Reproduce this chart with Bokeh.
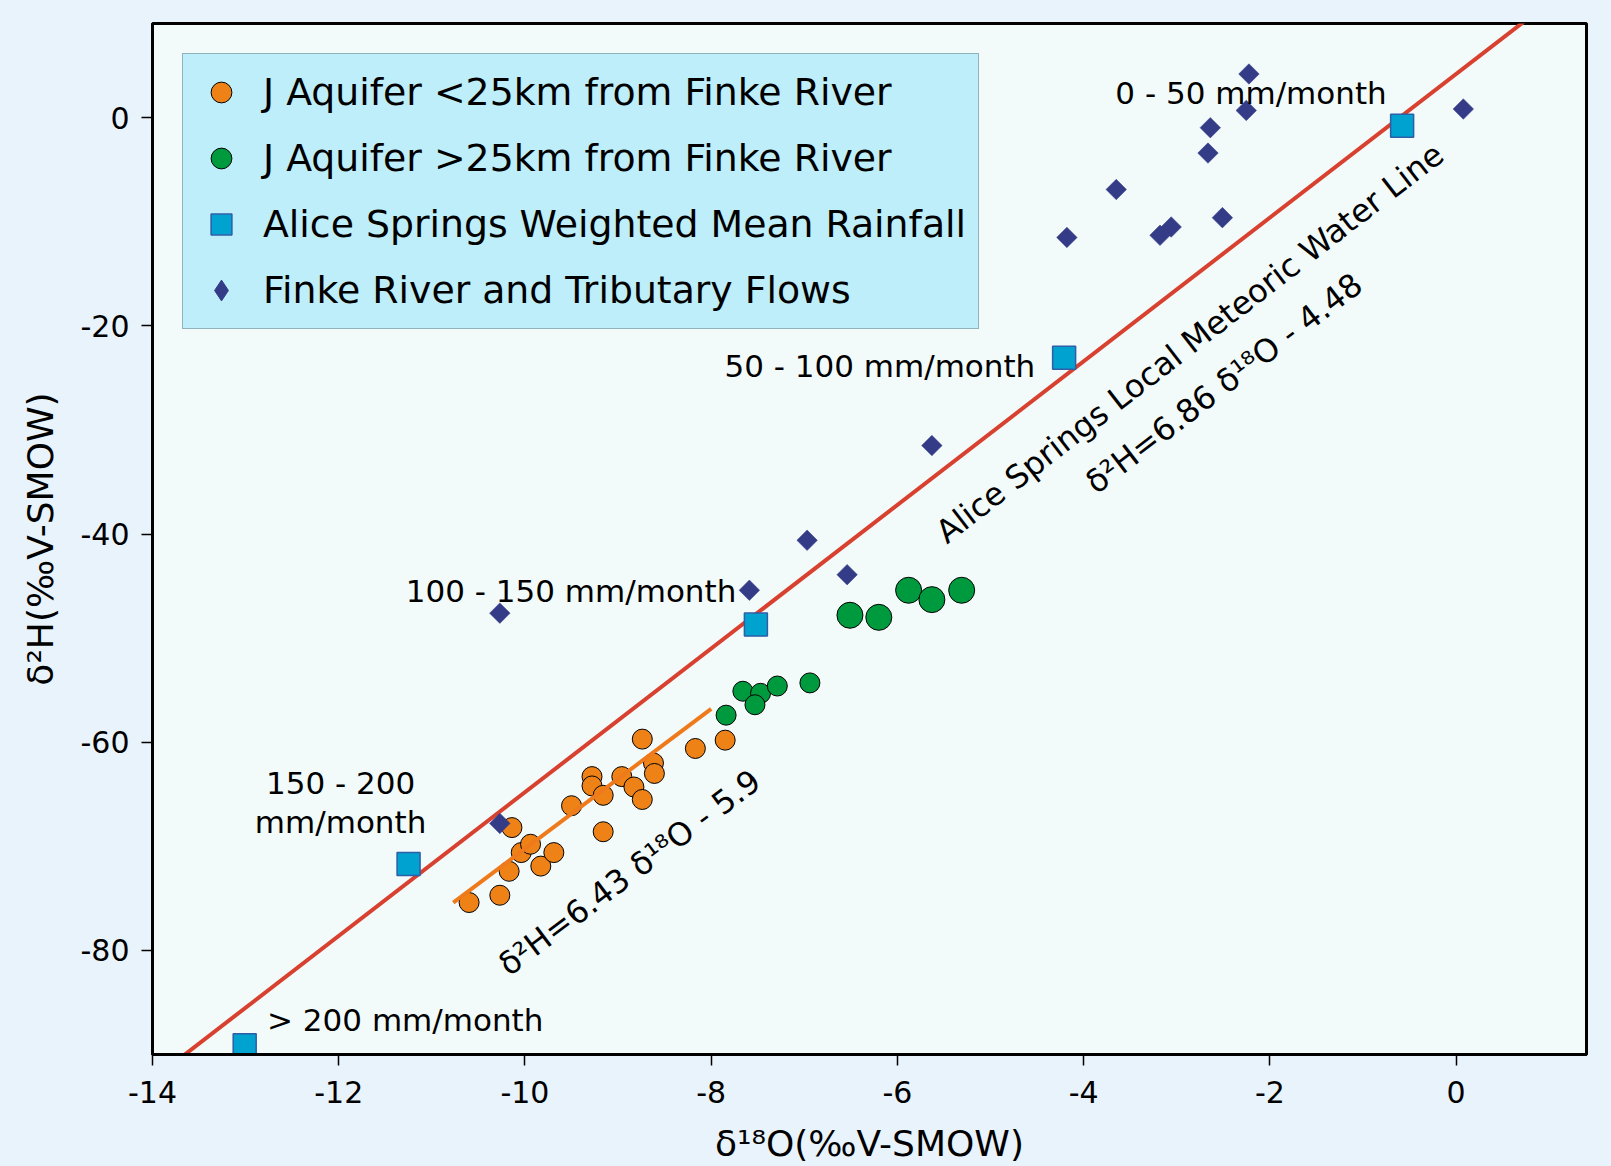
import math
from bokeh.plotting import figure
from bokeh.models import Range1d, FixedTicker, Label, Legend, LegendItem, PrintfTickFormatter
from bokeh.embed import file_html
from bokeh.resources import INLINE

# ---------------- data ----------------
# J Aquifer < 25 km from Finke River
near_x = [-10.60, -10.27, -10.14, -10.17, -10.04, -9.94, -9.83, -9.69, -9.50, -9.28, -9.28,
          -9.16, -9.16, -8.96, -8.83, -8.74, -8.74, -8.62, -8.61, -8.17, -7.85]
near_y = [-75.4, -74.7, -68.2, -72.4, -70.6, -69.8, -71.9, -70.6, -66.1, -63.3, -64.2,
          -65.1, -68.6, -63.3, -64.3, -65.5, -59.7, -62.0, -63.0, -60.6, -59.8]

# J Aquifer > 25 km from Finke River (two marker sizes in the original)
far_a_x = [-7.84, -7.66, -7.47, -7.53, -7.29, -6.94]
far_a_y = [-57.4, -55.1, -55.3, -56.4, -54.6, -54.3]
far_b_x = [-6.51, -6.20, -5.88, -5.63, -5.31]
far_b_y = [-47.8, -48.0, -45.4, -46.3, -45.4]

# Alice Springs weighted mean rainfall
rain_x = [-13.01, -11.25, -7.52, -4.21, -0.58]
rain_y = [-89.1, -71.7, -48.7, -23.05, -0.77]

# Finke River and tributary flows
flow_x = [-10.27, -10.27, -7.59, -6.97, -6.54, -5.63, -4.18, -3.65, -3.18, -3.06,
          -2.665, -2.64, -2.51, -2.254, -2.225, 0.077]
flow_y = [-47.6, -67.8, -45.4, -40.6, -43.9, -31.5, -11.5, -6.9, -11.3, -10.5,
          -3.4, -0.96, -9.6, 0.70, 4.2, 0.83]

# Local meteoric water line as drawn
lmwl_slope = 6.9
lmwl_intercept = 4.2
# Regression line through the near-river J Aquifer samples, as drawn
fit_x = [-10.77, -8.0]
fit_y = [-75.4, -56.8]

x_ticks = [-14, -12, -10, -8, -6, -4, -2, 0]
y_ticks = [-80, -60, -40, -20, 0]

series_names = ["J Aquifer <25km from Finke River",
                "J Aquifer >25km from Finke River",
                "Alice Springs Weighted Mean Rainfall",
                "Finke River and Tributary Flows"]
rain_labels = ["0 - 50 mm/month", "50 - 100 mm/month", "100 - 150 mm/month",
               "150 - 200", "mm/month", "> 200 mm/month"]
lmwl_label = "Alice Springs Local Meteoric Water Line"
lmwl_eq = "δ²H=6.86 δ¹⁸O - 4.48"
fit_eq = "δ²H=6.43 δ¹⁸O - 5.9"
x_title = "δ¹⁸O(‰V-SMOW)"
y_title = "δ²H(‰V-SMOW)"

# ---------------- styling ----------------
FONT = "DejaVu Sans"
FIG_BG = "#E9F3FB"
PLOT_BG = "#F2FBFA"
ORANGE = "#EE8217"
GREEN = "#009A3E"
SQUARE = "#00A2CF"
SQUARE_EDGE = "#2F5DA6"
NAVY = "#343C88"
RED = "#D8412F"

X0, X1 = -14, 1.40
Y0, Y1 = -90, 9.05

p = figure(width=1611, height=1166, output_backend="svg", toolbar_location=None,
           x_range=Range1d(X0, X1), y_range=Range1d(Y0, Y1),
           min_border_left=152, min_border_right=25, min_border_top=23, min_border_bottom=111)
p.background_fill_color = PLOT_BG
p.border_fill_color = FIG_BG
p.outline_line_color = "black"
p.outline_line_width = 3
p.grid.visible = False

for ax in (p.xaxis[0], p.yaxis[0]):
    ax.axis_line_color = "black"
    ax.axis_line_width = 3
    ax.major_tick_line_color = "black"
    ax.major_tick_line_width = 1.5
    ax.major_tick_out = 11
    ax.major_tick_in = 0
    ax.minor_tick_line_color = None
    ax.major_label_text_font = FONT
    ax.major_label_text_font_size = "30px"
    ax.major_label_text_color = "black"
    ax.axis_label_text_font = FONT
    ax.axis_label_text_font_size = "36px"
    ax.axis_label_text_font_style = "normal"
    ax.axis_label_text_color = "black"
    ax.formatter = PrintfTickFormatter(format="%d")

p.xaxis.ticker = FixedTicker(ticks=x_ticks)
p.yaxis.ticker = FixedTicker(ticks=y_ticks)
p.xaxis.axis_label = x_title
p.yaxis.axis_label = y_title
p.xaxis.major_label_standoff = 15
p.xaxis.axis_label_standoff = 17
p.yaxis.major_label_standoff = 12
p.yaxis.axis_label_standoff = 17

# meteoric water line across the x range
lx = [X0, X1]
ly = [lmwl_slope * v + lmwl_intercept for v in lx]
p.line(lx, ly, line_color=RED, line_width=4)

r_near = p.scatter(near_x, near_y, marker="circle", size=20, fill_color=ORANGE,
                   line_color="black", line_width=1)
p.line(fit_x, fit_y, line_color="#EE7A1C", line_width=4)
r_far = p.scatter(far_a_x, far_a_y, marker="circle", size=20, fill_color=GREEN,
                  line_color="black", line_width=1)
p.scatter(far_b_x, far_b_y, marker="circle", size=26, fill_color=GREEN,
          line_color="black", line_width=1)
r_rain = p.scatter(rain_x, rain_y, marker="square", size=23, fill_color=SQUARE,
                   line_color=SQUARE_EDGE, line_width=1.5)
p.scatter(flow_x, flow_y, marker="square", angle=math.pi / 4, size=14.5,
          fill_color=NAVY, line_color=NAVY, line_width=0.5)
# proxy used only for the legend swatch (no visible point in the plot)
nan = float("nan")
r_flow_leg = p.scatter(x=[nan], y=[nan], marker="diamond", size=20,
                       fill_color=NAVY, line_color=NAVY)

legend = Legend(items=[LegendItem(label=series_names[0], renderers=[r_near]),
                       LegendItem(label=series_names[1], renderers=[r_far]),
                       LegendItem(label=series_names[2], renderers=[r_rain]),
                       LegendItem(label=series_names[3], renderers=[r_flow_leg])],
                location="top_left", margin=30, padding=12, spacing=14,
                glyph_width=52, glyph_height=52, label_height=52, label_standoff=16,
                label_text_font=FONT, label_text_font_size="37.8px", label_text_color="black",
                background_fill_color="#BDEEF9", background_fill_alpha=1.0,
                border_line_color="#66777F", border_line_width=1.5)
p.add_layout(legend)

def add_label(x, y, text, align="left", angle=0.0, size="31px"):
    p.add_layout(Label(x=x, y=y, text=text, text_font=FONT, text_font_size=size,
                       text_color="black", text_align=align, text_baseline="alphabetic",
                       angle=angle))

add_label(-3.66, 2.35, rain_labels[0])
add_label(-4.52, -23.85, rain_labels[1], align="right")
add_label(-11.28, -45.45, rain_labels[2])
add_label(-11.98, -63.95, rain_labels[3], align="center")
add_label(-11.98, -67.65, rain_labels[4], align="center")
add_label(-12.77, -86.7, rain_labels[5])

add_label(-5.54, -40.18, lmwl_label, angle=math.radians(37.7), size="32px")
add_label(-3.935, -35.41, lmwl_eq, angle=math.radians(37.5), size="32px")
add_label(-10.24, -81.71, fit_eq, angle=math.radians(37.0), size="32px")

html = file_html(p, INLINE)
html = html.replace("<head>", "<head><style>html, body {background: %s;}</style>" % FIG_BG, 1)
open("out.html", "w").write(html)
